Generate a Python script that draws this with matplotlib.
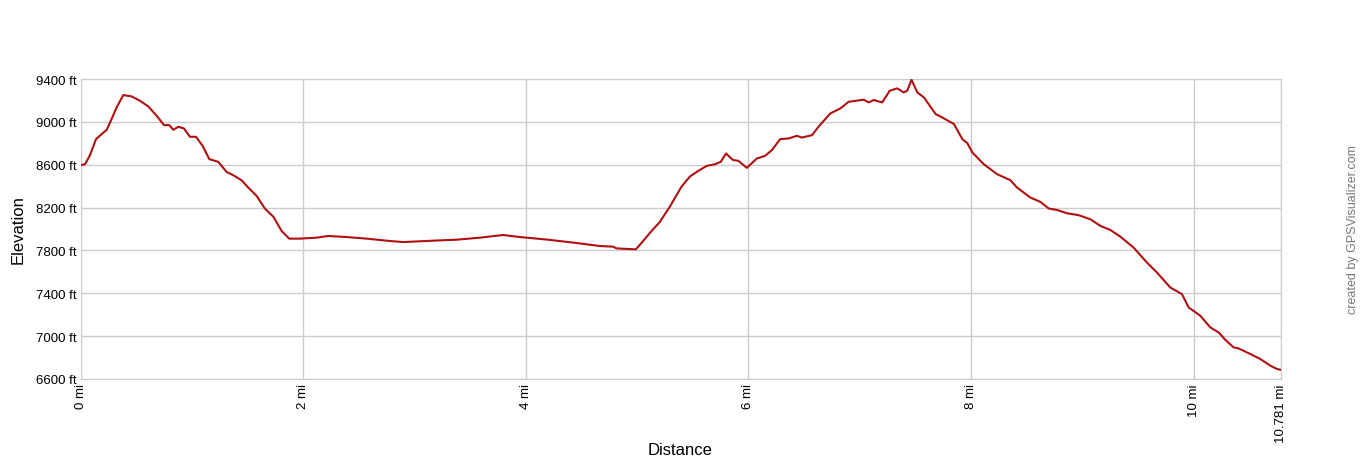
import matplotlib.pyplot as plt

# distance (mi) and elevation (ft)
dist = [0.0, 0.04, 0.084, 0.138, 0.189, 0.234, 0.278, 0.323, 0.383, 0.458,
        0.533, 0.608, 0.683, 0.749, 0.796, 0.832, 0.877, 0.928, 0.982, 1.036,
        1.096, 1.156, 1.237, 1.311, 1.371, 1.446, 1.506, 1.581, 1.656, 1.731,
        1.806, 1.874, 1.970, 2.120, 2.225, 2.389, 2.569, 2.778, 2.898, 3.168,
        3.377, 3.587, 3.796, 3.946, 4.20, 4.45, 4.664, 4.784, 4.814, 4.988,
        5.054, 5.129, 5.204, 5.294, 5.399, 5.474, 5.550, 5.625, 5.700, 5.751,
        5.799, 5.859, 5.910, 5.985, 6.075, 6.150, 6.210, 6.285, 6.360, 6.435,
        6.480, 6.571, 6.631, 6.736, 6.826, 6.901, 7.036, 7.081, 7.126, 7.201,
        7.270, 7.336, 7.396, 7.426, 7.465, 7.517, 7.577, 7.682, 7.742, 7.847,
        7.922, 7.967, 8.012, 8.114, 8.234, 8.353, 8.413, 8.533, 8.623, 8.698,
        8.772, 8.862, 8.967, 9.072, 9.162, 9.251, 9.341, 9.461, 9.581, 9.671,
        9.790, 9.895, 9.955, 10.060, 10.150, 10.225, 10.284, 10.359, 10.404,
        10.509, 10.599, 10.689, 10.749, 10.781]
elev = [8596, 8605, 8689, 8839, 8886, 8926, 9026, 9135, 9250, 9238,
        9197, 9144, 9057, 8970, 8970, 8926, 8954, 8939, 8861, 8861,
        8776, 8652, 8627, 8533, 8502, 8455, 8387, 8309, 8190, 8115,
        7981, 7910, 7910, 7919, 7935, 7925, 7910, 7888, 7878, 7891,
        7900, 7919, 7944, 7925, 7900, 7870, 7841, 7835, 7819, 7810,
        7888, 7981, 8066, 8209, 8396, 8490, 8543, 8589, 8605, 8627,
        8705, 8645, 8636, 8571, 8658, 8683, 8736, 8839, 8845, 8870,
        8854, 8876, 8957, 9079, 9126, 9188, 9207, 9182, 9204, 9182,
        9291, 9313, 9275, 9291, 9394, 9275, 9228, 9073, 9041, 8979,
        8839, 8801, 8714, 8605, 8512, 8456, 8387, 8294, 8253, 8191,
        8178, 8147, 8129, 8091, 8029, 7991, 7929, 7826, 7686, 7593,
        7454, 7392, 7268, 7190, 7081, 7034, 6966, 6895, 6885,
        6833, 6786, 6724, 6693, 6686]

xticks = [0, 2, 4, 6, 8, 10, 10.781]
xlabels = ["0 mi", "2 mi", "4 mi", "6 mi", "8 mi", "10 mi", "10.781 mi"]
yticks = [6600, 7000, 7400, 7800, 8200, 8600, 9000, 9400]
ylabels = ["%d ft" % v for v in yticks]

plt.rcParams['font.family'] = ['Liberation Sans', 'DejaVu Sans']

fig = plt.figure(figsize=(13.6, 4.6), dpi=100)
ax = fig.add_axes([0.0593, 0.174, 0.8823, 0.652])

ax.plot(dist, elev, color='#b01010', lw=1.5, zorder=3)

ax.set_xlim(0, 10.781)
ax.set_ylim(6600, 9400)
ax.set_xticks(xticks)
ax.set_xticklabels(xlabels, rotation=90, fontsize=9.5)
ax.set_yticks(yticks)
ax.set_yticklabels(ylabels, fontsize=9.5)
ax.tick_params(length=0, pad=3)
ax.grid(True, color='#cccccc', lw=1)
for s in ax.spines.values():
    s.set_color('#cccccc')

fig.text(0.5, 0.02, "Distance", ha='center', va='center', fontsize=12)
fig.text(0.013, 0.5, "Elevation", rotation=90, ha='center', va='center', fontsize=12)
fig.text(0.9945, 0.5, "created by GPSVisualizer.com", rotation=90,
         ha='center', va='center', fontsize=9, color='#777777')

fig.savefig("out.png", dpi=100)
